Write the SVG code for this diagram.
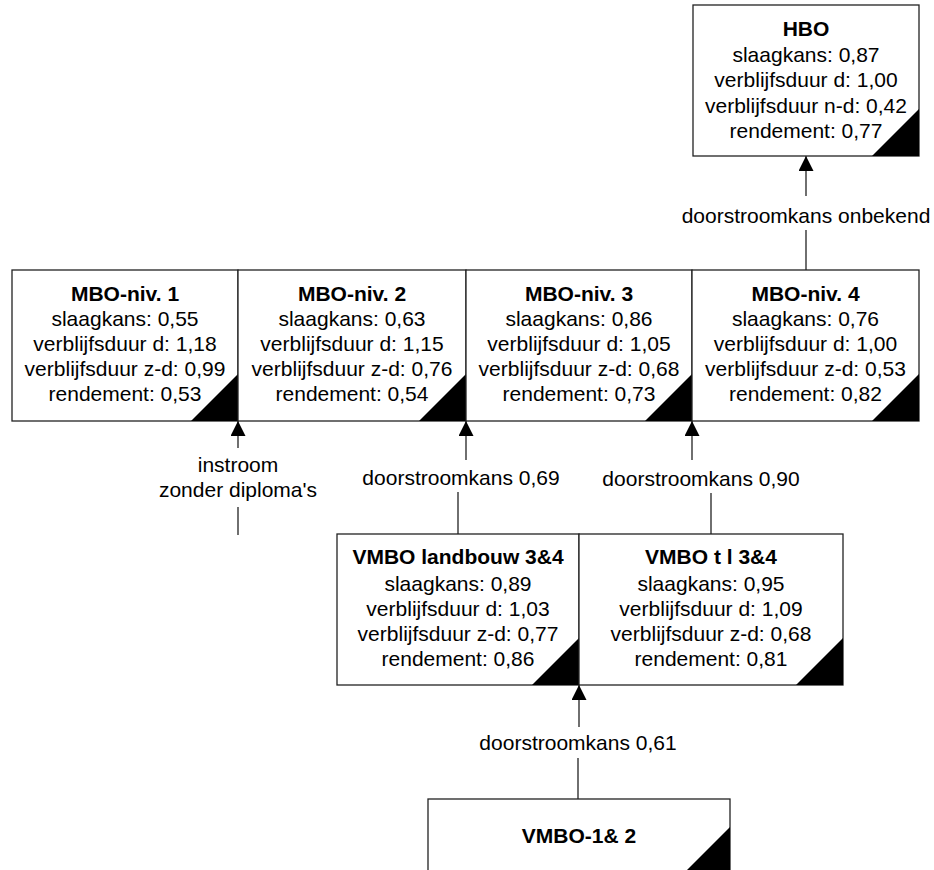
<svg xmlns="http://www.w3.org/2000/svg" width="934" height="870" viewBox="0 0 934 870">
  <style>
    .box { fill: #ffffff; stroke: #222222; stroke-width: 1.3; }
    .corner { fill: #000000; }
    .title { font-family: "Liberation Sans", Arial, sans-serif; font-size: 21px; font-weight: bold; fill: #000000; text-anchor: middle; }
    .txt { font-family: "Liberation Sans", Arial, sans-serif; font-size: 21px; fill: #000000; text-anchor: middle; }
    .link { stroke: #222222; stroke-width: 1.3; fill: none; }
  </style>
  <defs>
    <marker id="arrow" markerUnits="userSpaceOnUse" markerWidth="16" markerHeight="16" refX="15" refY="7.5" orient="auto">
      <path d="M0,0 L15,7.5 L0,15 Z" fill="#000000"/>
    </marker>
  </defs>

  <rect width="934" height="870" fill="#ffffff"/>

  <!-- connectors -->
  <g id="connectors">
    <!-- MBO-niv. 4 to HBO -->
    <line class="link" x1="806" y1="270" x2="806" y2="230"/>
    <line class="link" x1="806" y1="196" x2="806" y2="156" marker-end="url(#arrow)"/>
    <text class="txt" x="806" y="223">doorstroomkans onbekend</text>

    <!-- intake without diploma into MBO-niv. 1 -->
    <line class="link" x1="238" y1="535" x2="238" y2="507"/>
    <line class="link" x1="238" y1="448" x2="238" y2="421" marker-end="url(#arrow)"/>
    <text class="txt" x="238" y="472">instroom</text>
    <text class="txt" x="238" y="497">zonder diploma's</text>

    <!-- VMBO landbouw to MBO-niv. 2 -->
    <polyline class="link" points="458,534 458,492"/>
    <line class="link" x1="466" y1="460" x2="466" y2="421" marker-end="url(#arrow)"/>
    <text class="txt" x="461" y="485">doorstroomkans 0,69</text>

    <!-- VMBO t l to MBO-niv. 3 -->
    <line class="link" x1="711" y1="534" x2="711" y2="493"/>
    <line class="link" x1="692" y1="460" x2="692" y2="421" marker-end="url(#arrow)"/>
    <text class="txt" x="701" y="486">doorstroomkans 0,90</text>

    <!-- VMBO-1&2 to VMBO landbouw -->
    <line class="link" x1="578" y1="799" x2="578" y2="758"/>
    <line class="link" x1="579" y1="727" x2="579" y2="685" marker-end="url(#arrow)"/>
    <text class="txt" x="578" y="750">doorstroomkans 0,61</text>
  </g>

  <!-- HBO -->
  <g id="hbo">
    <rect class="box" x="693" y="5" width="226" height="151"/>
    <polygon class="corner" points="919,109 919,156 872,156"/>
    <text class="title" x="806" y="36">HBO</text>
    <text class="txt" x="806" y="62">slaagkans: 0,87</text>
    <text class="txt" x="806" y="87">verblijfsduur d: 1,00</text>
    <text class="txt" x="806" y="112.5">verblijfsduur n-d: 0,42</text>
    <text class="txt" x="806" y="138">rendement: 0,77</text>
  </g>

  <!-- MBO-niv. 1 -->
  <g id="mbo1">
    <rect class="box" x="12" y="270" width="226" height="151"/>
    <polygon class="corner" points="238,374 238,421 191,421"/>
    <text class="title" x="125" y="300.5">MBO-niv. 1</text>
    <text class="txt" x="125" y="325.5">slaagkans: 0,55</text>
    <text class="txt" x="125" y="350.5">verblijfsduur d: 1,18</text>
    <text class="txt" x="125" y="375.5">verblijfsduur z-d: 0,99</text>
    <text class="txt" x="125" y="400.5">rendement: 0,53</text>
  </g>

  <!-- MBO-niv. 2 -->
  <g id="mbo2">
    <rect class="box" x="238" y="270" width="228" height="151"/>
    <polygon class="corner" points="466,374 466,421 419,421"/>
    <text class="title" x="352" y="300.5">MBO-niv. 2</text>
    <text class="txt" x="352" y="325.5">slaagkans: 0,63</text>
    <text class="txt" x="352" y="350.5">verblijfsduur d: 1,15</text>
    <text class="txt" x="352" y="375.5">verblijfsduur z-d: 0,76</text>
    <text class="txt" x="352" y="400.5">rendement: 0,54</text>
  </g>

  <!-- MBO-niv. 3 -->
  <g id="mbo3">
    <rect class="box" x="466" y="270" width="226" height="151"/>
    <polygon class="corner" points="692,374 692,421 645,421"/>
    <text class="title" x="579" y="300.5">MBO-niv. 3</text>
    <text class="txt" x="579" y="325.5">slaagkans: 0,86</text>
    <text class="txt" x="579" y="350.5">verblijfsduur d: 1,05</text>
    <text class="txt" x="579" y="375.5">verblijfsduur z-d: 0,68</text>
    <text class="txt" x="579" y="400.5">rendement: 0,73</text>
  </g>

  <!-- MBO-niv. 4 -->
  <g id="mbo4">
    <rect class="box" x="692" y="270" width="227" height="151"/>
    <polygon class="corner" points="919,374 919,421 872,421"/>
    <text class="title" x="805.5" y="300.5">MBO-niv. 4</text>
    <text class="txt" x="805.5" y="325.5">slaagkans: 0,76</text>
    <text class="txt" x="805.5" y="350.5">verblijfsduur d: 1,00</text>
    <text class="txt" x="805.5" y="375.5">verblijfsduur z-d: 0,53</text>
    <text class="txt" x="805.5" y="400.5">rendement: 0,82</text>
  </g>

  <!-- VMBO landbouw 3&4 -->
  <g id="vmbo-landbouw">
    <rect class="box" x="337" y="534" width="242" height="151"/>
    <polygon class="corner" points="579,638 579,685 532,685"/>
    <text class="title" x="458" y="564">VMBO landbouw 3&amp;4</text>
    <text class="txt" x="458" y="590.5">slaagkans: 0,89</text>
    <text class="txt" x="458" y="615.5">verblijfsduur d: 1,03</text>
    <text class="txt" x="458" y="640.5">verblijfsduur z-d: 0,77</text>
    <text class="txt" x="458" y="666">rendement: 0,86</text>
  </g>

  <!-- VMBO t l 3&4 -->
  <g id="vmbo-tl">
    <rect class="box" x="579" y="534" width="264" height="151"/>
    <polygon class="corner" points="843,638 843,685 796,685"/>
    <text class="title" x="711" y="564">VMBO t l 3&amp;4</text>
    <text class="txt" x="711" y="590.5">slaagkans: 0,95</text>
    <text class="txt" x="711" y="615.5">verblijfsduur d: 1,09</text>
    <text class="txt" x="711" y="640.5">verblijfsduur z-d: 0,68</text>
    <text class="txt" x="711" y="666">rendement: 0,81</text>
  </g>

  <!-- VMBO-1& 2 -->
  <g id="vmbo-12">
    <rect class="box" x="428" y="799" width="302" height="151"/>
    <polygon class="corner" points="730,827 730,874 683,874"/>
    <text class="title" x="579" y="843">VMBO-1&amp; 2</text>
  </g>
</svg>
